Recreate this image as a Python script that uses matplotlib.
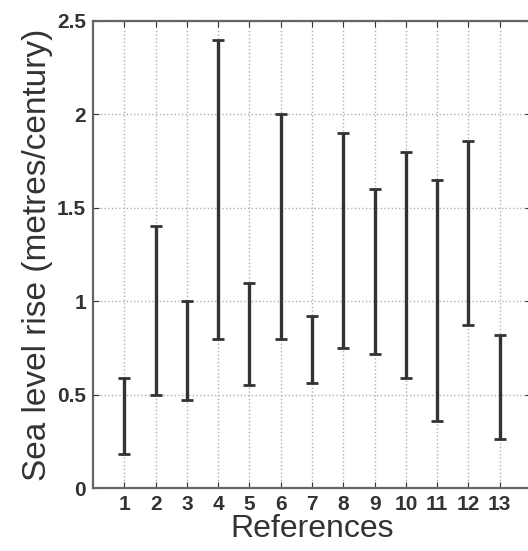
import numpy as np
import matplotlib
matplotlib.use("Agg")
import matplotlib.pyplot as plt

plt.rcParams['font.family'] = ['Liberation Sans', 'DejaVu Sans']

refs = np.arange(1, 14)
low = [0.18, 0.50, 0.47, 0.80, 0.55, 0.80, 0.56, 0.75, 0.72, 0.59, 0.36, 0.87, 0.26]
high = [0.59, 1.40, 1.00, 2.40, 1.10, 2.00, 0.92, 1.90, 1.60, 1.80, 1.65, 1.86, 0.82]

low = np.array(low)
high = np.array(high)
mid = (low + high) / 2
half = (high - low) / 2

fig = plt.figure(figsize=(5.28, 5.51), dpi=100)
ax = fig.add_axes([93 / 528, 1 - 488 / 551, 438 / 528, 467 / 551])

ax.errorbar(refs, mid, yerr=half, fmt='none', ecolor='#333333',
            elinewidth=2.4, capsize=4.5, capthick=2.0)

ax.set_xlim(0, 14)
ax.set_ylim(0, 2.5)
ax.set_xticks(refs)
ax.set_yticks([0, 0.5, 1, 1.5, 2, 2.5])
ax.set_yticklabels(['0', '0.5', '1', '1.5', '2', '2.5'])
ax.grid(True, linestyle=':', color='#b0b0b0', linewidth=1.0)
ax.tick_params(direction='in', length=4, labelsize=15, colors='#333333',
               top=True, right=True, pad=5)
for lab in ax.get_xticklabels() + ax.get_yticklabels():
    lab.set_fontweight('bold')
for s in ax.spines.values():
    s.set_color('#666666')
    s.set_linewidth(1.6)

ax.set_xlabel('References', fontsize=23, color='#333333', labelpad=0)
ax.set_ylabel('Sea level rise (metres/century)', fontsize=24, color='#333333', labelpad=3)

fig.savefig('out.png', dpi=100)
